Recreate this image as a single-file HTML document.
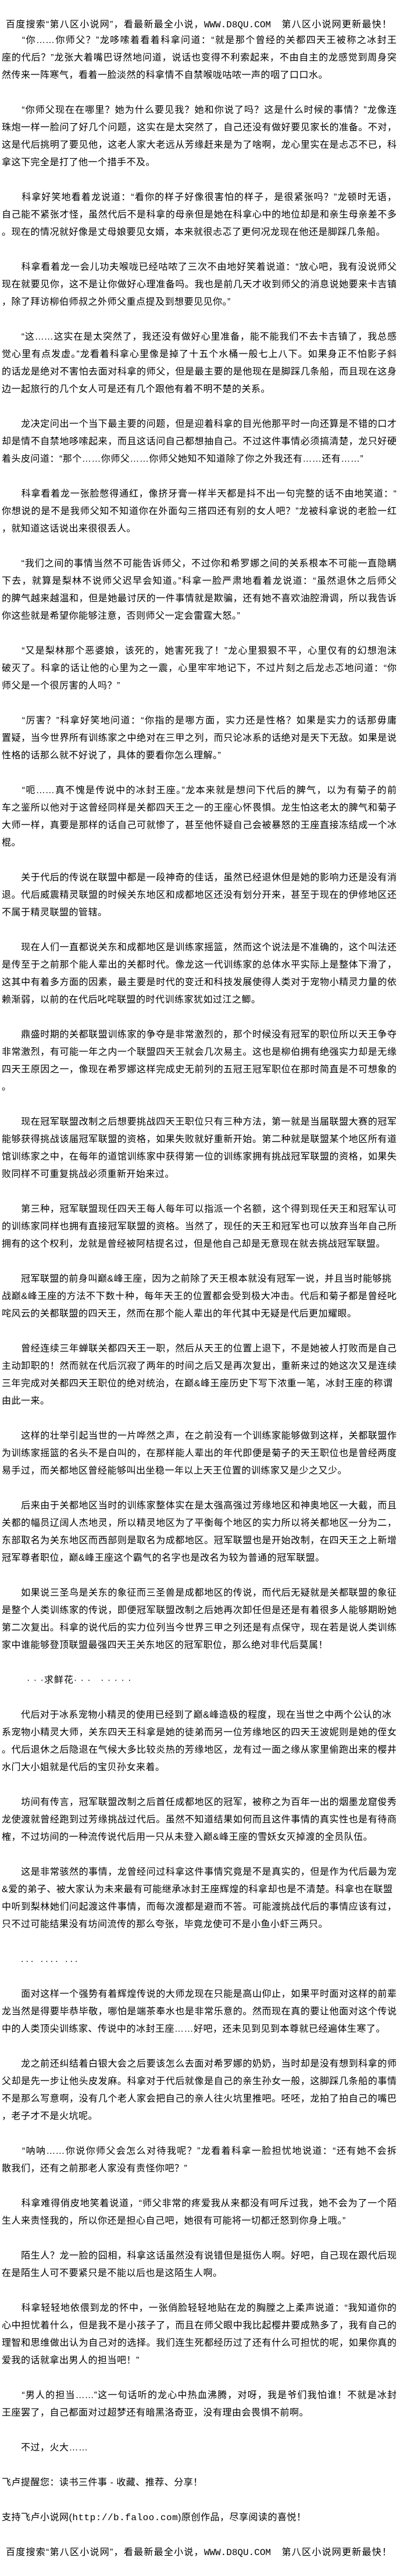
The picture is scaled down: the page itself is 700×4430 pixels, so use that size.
<!DOCTYPE html>
<html><head><meta charset="utf-8"><style>
html,body{margin:0;padding:0;background:#fff;}
body{width:700px;height:4430px;position:relative;overflow:hidden;
font-family:"Liberation Sans","Noto Sans CJK SC",sans-serif;font-size:16px;color:#000;}
.p{position:absolute;left:3px;width:679px;}
.p div{height:30px;line-height:30px;white-space:nowrap;letter-spacing:0.5px;}
.p div.f{text-align:justify;text-align-last:justify;letter-spacing:0;}
.m{font-family:"Liberation Mono",monospace;}
</style></head><body>

<div class="p" style="top:28px;left:10px;width:663px"><div class="f">百度搜索“第八区小说网”，看最新最全小说，<span class="m">WWW.D8QU.COM</span>　第八区小说网更新最快！</div></div>

<div class="p" style="top:55px">
<div class="f">　　“你……你师父？”龙哆嗦着看着科拿问道：“就是那个曾经的关都四天王被称之冰封王</div>
<div class="f">座的代后？”龙张大着嘴巴讶然地问道，说话也变得不利索起来，不由自主的龙感觉到周身突</div>
<div>然传来一阵寒气，看着一脸淡然的科拿情不自禁喉咙咕哝一声的咽了口口水。</div>
</div>

<div class="p" style="top:175px">
<div class="f">　　“你师父现在在哪里？她为什么要见我？她和你说了吗？这是什么时候的事情？”龙像连</div>
<div class="f">珠炮一样一脸问了好几个问题，这实在是太突然了，自己还没有做好要见家长的准备。不对，</div>
<div class="f">这是代后挑明了要见他，这老人家大老远从芳缘赶来是为了啥啊，龙心里实在是忐忑不已，科</div>
<div>拿这下完全是打了他一个措手不及。</div>
</div>

<div class="p" style="top:325px">
<div class="f">　　科拿好笑地看着龙说道：“看你的样子好像很害怕的样子，是很紧张吗？”龙顿时无语，</div>
<div class="f">自己能不紧张才怪，虽然代后不是科拿的母亲但是她在科拿心中的地位却是和亲生母亲差不多</div>
<div>。现在的情况就好像是丈母娘要见女婿，本来就很忐忑了更何况龙现在他还是脚踩几条船。</div>
</div>

<div class="p" style="top:445px">
<div class="f">　　科拿看着龙一会儿功夫喉咙已经咕哝了三次不由地好笑着说道：“放心吧，我有没说师父</div>
<div class="f">现在就要见你，这不是让你做好心理准备吗。我也是前几天才收到师父的消息说她要来卡吉镇</div>
<div>，除了拜访柳伯师叔之外师父重点提及到想要见见你。”</div>
</div>

<div class="p" style="top:565px">
<div class="f">　　“这……这实在是太突然了，我还没有做好心里准备，能不能我们不去卡吉镇了，我总感</div>
<div class="f">觉心里有点发虚。”龙看着科拿心里像是掉了十五个水桶一般七上八下。如果身正不怕影子斜</div>
<div class="f">的话龙是绝对不害怕去面对科拿的师父，但是最主要的是他现在是脚踩几条船，而且现在这身</div>
<div>边一起旅行的几个女人可是还有几个跟他有着不明不楚的关系。</div>
</div>

<div class="p" style="top:715px">
<div class="f">　　龙决定问出一个当下最主要的问题，但是迎着科拿的目光他那平时一向还算是不错的口才</div>
<div class="f">却是情不自禁地哆嗦起来，而且这话问自己都想抽自己。不过这件事情必须搞清楚，龙只好硬</div>
<div>着头皮问道：“那个……你师父……你师父她知不知道除了你之外我还有……还有……”</div>
</div>

<div class="p" style="top:835px">
<div class="f">　　科拿看着龙一张脸憋得通红，像挤牙膏一样半天都是抖不出一句完整的话不由地笑道：“</div>
<div class="f">你想说的是不是我师父知不知道你在外面勾三搭四还有别的女人吧？”龙被科拿说的老脸一红</div>
<div>，就知道这话说出来很很丢人。</div>
</div>

<div class="p" style="top:955px">
<div class="f">　　“我们之间的事情当然不可能告诉师父，不过你和希罗娜之间的关系根本不可能一直隐瞒</div>
<div class="f">下去，就算是梨林不说师父迟早会知道。”科拿一脸严肃地看着龙说道：“虽然退休之后师父</div>
<div class="f">的脾气越来越温和，但是她最讨厌的一件事情就是欺骗，还有她不喜欢油腔滑调，所以我告诉</div>
<div>你这些就是希望你能够注意，否则师父一定会雷霆大怒。”</div>
</div>

<div class="p" style="top:1105px">
<div class="f">　　“又是梨林那个恶婆娘，该死的，她害死我了！”龙心里狠狠不平，心里仅有的幻想泡沫</div>
<div class="f">破灭了。科拿的话让他的心里为之一震，心里牢牢地记下，不过片刻之后龙忐忑地问道：“你</div>
<div>师父是一个很厉害的人吗？”</div>
</div>

<div class="p" style="top:1225px">
<div class="f">　　“厉害？”科拿好笑地问道：“你指的是哪方面，实力还是性格？如果是实力的话那毋庸</div>
<div class="f">置疑，当今世界所有训练家之中绝对在三甲之列，而只论冰系的话绝对是天下无敌。如果是说</div>
<div>性格的话那么就不好说了，具体的要看你怎么理解。”</div>
</div>

<div class="p" style="top:1345px">
<div class="f">　　“呃……真不愧是传说中的冰封王座。”龙本来就是想问下代后的脾气，以为有菊子的前</div>
<div class="f">车之鉴所以他对于这曾经同样是关都四天王之一的王座心怀畏惧。龙生怕这老太的脾气和菊子</div>
<div class="f">大师一样，真要是那样的话自己可就惨了，甚至他怀疑自己会被暴怒的王座直接冻结成一个冰</div>
<div>棍。</div>
</div>

<div class="p" style="top:1495px">
<div class="f">　　关于代后的传说在联盟中都是一段神奇的佳话，虽然已经退休但是她的影响力还是没有消</div>
<div class="f">退。代后威震精灵联盟的时候关东地区和成都地区还没有划分开来，甚至于现在的伊修地区还</div>
<div>不属于精灵联盟的管辖。</div>
</div>

<div class="p" style="top:1615px">
<div class="f">　　现在人们一直都说关东和成都地区是训练家摇篮，然而这个说法是不准确的，这个叫法还</div>
<div class="f">是传至于之前那个能人辈出的关都时代。像龙这一代训练家的总体水平实际上是整体下滑了，</div>
<div class="f">这其中有着多方面的因素，最主要是时代的变迁和科技发展使得人类对于宠物小精灵力量的依</div>
<div>赖渐弱，以前的在代后叱咤联盟的时代训练家犹如过江之鲫。</div>
</div>

<div class="p" style="top:1765px">
<div class="f">　　鼎盛时期的关都联盟训练家的争夺是非常激烈的，那个时候没有冠军的职位所以天王争夺</div>
<div class="f">非常激烈，有可能一年之内一个联盟四天王就会几次易主。这也是柳伯拥有绝强实力却是无缘</div>
<div class="f">四天王原因之一，像现在希罗娜这样完成史无前列的五冠王冠军职位在那时简直是不可想象的</div>
<div>。</div>
</div>

<div class="p" style="top:1915px">
<div class="f">　　现在冠军联盟改制之后想要挑战四天王职位只有三种方法，第一就是当届联盟大赛的冠军</div>
<div class="f">能够获得挑战该届冠军联盟的资格，如果失败就好重新开始。第二种就是联盟某个地区所有道</div>
<div class="f">馆训练家之中，在每年的道馆训练家中获得第一位的训练家拥有挑战冠军联盟的资格，如果失</div>
<div>败同样不可重复挑战必须重新开始来过。</div>
</div>

<div class="p" style="top:2065px">
<div class="f">　　第三种，冠军联盟现任四天王每人每年可以指派一个名额，这个得到现任天王和冠军认可</div>
<div class="f">的训练家同样也拥有直接冠军联盟的资格。当然了，现任的天王和冠军也可以放弃当年自己所</div>
<div>拥有的这个权利，龙就是曾经被阿桔提名过，但是他自己却是无意现在就去挑战冠军联盟。</div>
</div>

<div class="p" style="top:2185px">
<div class="f" style="width:670px">　　冠军联盟的前身叫巅&amp;峰王座，因为之前除了天王根本就没有冠军一说，并且当时能够挑</div>
<div class="f">战巅&amp;峰王座的方法不下数十种，每年天王的位置都会受到极大冲击。代后和菊子都是曾经叱</div>
<div>咤风云的关都联盟的四天王，然而在那个能人辈出的年代其中无疑是代后更加耀眼。</div>
</div>

<div class="p" style="top:2305px">
<div class="f">　　曾经连续三年蝉联关都四天王一职，然后从天王的位置上退下，不是她被人打败而是自己</div>
<div class="f">主动卸职的！然而就在代后沉寂了两年的时间之后又是再次复出，重新来过的她这次又是连续</div>
<div class="f" style="width:672px">三年完成对关都四天王职位的绝对统治，在巅&amp;峰王座历史下写下浓重一笔，冰封王座的称谓</div>
<div>由此一来。</div>
</div>

<div class="p" style="top:2455px">
<div class="f">　　这样的壮举引起当世的一片哗然之声，在之前没有一个训练家能够做到这样，关都联盟作</div>
<div class="f">为训练家摇篮的名头不是白叫的，在那样能人辈出的年代即便是菊子的天王职位也是曾经两度</div>
<div>易手过，而关都地区曾经能够叫出坐稳一年以上天王位置的训练家又是少之又少。</div>
</div>

<div class="p" style="top:2575px">
<div class="f">　　后来由于关都地区当时的训练家整体实在是太强高强过芳缘地区和神奥地区一大截，而且</div>
<div class="f">关都的幅员辽阔人杰地灵，所以精灵地区为了平衡每个地区的实力所以将关都地区一分为二，</div>
<div class="f">东部取名为关东地区而西部则是取名为成都地区。冠军联盟也是开始改制，在四天王之上新增</div>
<div>冠军尊者职位，巅&amp;峰王座这个霸气的名字也是改名为较为普通的冠军联盟。</div>
</div>

<div class="p" style="top:2725px">
<div class="f">　　如果说三圣鸟是关东的象征而三圣兽是成都地区的传说，而代后无疑就是关都联盟的象征</div>
<div class="f">是整个人类训练家的传说，即便冠军联盟改制之后她再次卸任但是还是有着很多人能够期盼她</div>
<div class="f">第二次复出。科拿的说代后的实力位列当今世界三甲之列还是有点保守，现在若是说人类训练</div>
<div>家中谁能够登顶联盟最强四天王关东地区的冠军职位，那么绝对非代后莫属！</div>
</div>

<div class="p" style="top:2875px;left:46px"><div style="letter-spacing:1px">·&nbsp;·&nbsp;·求鲜花·&nbsp;·&nbsp;·&nbsp;&nbsp;&nbsp;·&nbsp;·&nbsp;·&nbsp;·&nbsp;·</div></div>

<div class="p" style="top:2935px">
<div class="f" style="width:670px">　　代后对于冰系宠物小精灵的使用已经到了巅&amp;峰造极的程度，现在当世之中两个公认的冰</div>
<div class="f">系宠物小精灵大师，关东四天王科拿是她的徒弟而另一位芳缘地区的四天王波妮则是她的侄女</div>
<div class="f">。代后退休之后隐退在气候大多比较炎热的芳缘地区，龙有过一面之缘从家里偷跑出来的樱井</div>
<div>水门大小姐就是代后的宝贝孙女来着。</div>
</div>

<div class="p" style="top:3085px">
<div class="f">　　坊间有传言，冠军联盟改制之后首任成都地区的冠军，被称之为百年一出的烟墨龙窟俊秀</div>
<div class="f">龙使渡就曾经跑到过芳缘挑战过代后。虽然不知道结果如何而且这件事情的真实性也是有待商</div>
<div>榷，不过坊间的一种流传说代后用一只从未登入巅&amp;峰王座的雪妖女灭掉渡的全员队伍。</div>
</div>

<div class="p" style="top:3205px">
<div class="f">　　这是非常骇然的事情，龙曾经问过科拿这件事情究竟是不是真实的，但是作为代后最为宠</div>
<div class="f" style="width:672px">&amp;爱的弟子、被大家认为未来最有可能继承冰封王座辉煌的科拿却也是不清楚。科拿也在联盟</div>
<div class="f">中听到梨林她们问起渡这件事情，而每次渡都是避而不答。可能渡挑战代后的事情应该有过，</div>
<div>只不过可能结果没有坊间流传的那么夸张，毕竟龙使可不是小鱼小虾三两只。</div>
</div>

<div class="p" style="top:3355px;left:36px"><div style="letter-spacing:4px">...&nbsp;....&nbsp;...</div></div>

<div class="p" style="top:3415px">
<div class="f">　　面对这样一个强势有着辉煌传说的大师龙现在只能是高山仰止，如果平时面对这样的前辈</div>
<div class="f">龙当然是得要毕恭毕敬，哪怕是端茶奉水也是非常乐意的。然而现在真的要让他面对这个传说</div>
<div>中的人类顶尖训练家、传说中的冰封王座……好吧，还未见到见到本尊就已经遍体生寒了。</div>
</div>

<div class="p" style="top:3535px">
<div class="f">　　龙之前还纠结着白银大会之后要该怎么去面对希罗娜的奶奶，当时却是没有想到科拿的师</div>
<div class="f">父却是先一步让他头皮发麻。科拿对于代后就像是自己的亲生孙女一般，这脚踩几条船的事情</div>
<div class="f">不是那么写意啊，没有几个老人家会把自己的亲人往火坑里推吧。呸呸，龙拍了拍自己的嘴巴</div>
<div>，老子才不是火坑呢。</div>
</div>

<div class="p" style="top:3685px">
<div class="f">　　“呐呐……你说你师父会怎么对待我呢？”龙看着科拿一脸担忧地说道：“还有她不会拆</div>
<div>散我们，还有之前那老人家没有责怪你吧？”</div>
</div>

<div class="p" style="top:3775px">
<div class="f">　　科拿难得俏皮地笑着说道，“师父非常的疼爱我从来都没有呵斥过我，她不会为了一个陌</div>
<div>生人来责怪我的，所以你还是担心自己吧，她很有可能将一切都迁怒到你身上哦。”</div>
</div>

<div class="p" style="top:3865px">
<div class="f">　　陌生人？龙一脸的囧相，科拿这话虽然没有说错但是挺伤人啊。好吧，自己现在跟代后现</div>
<div>在是陌生人可不要紧只是不能以后也是这陌生人啊。</div>
</div>

<div class="p" style="top:3955px">
<div class="f">　　科拿轻轻地依偎到龙的怀中，一张俏脸轻轻地贴在龙的胸膛之上柔声说道：“我知道你的</div>
<div class="f">心中担忧着什么，但是我不是小孩子了，而且在师父眼中我比起樱井要成熟多了，我有自己的</div>
<div class="f">理智和思维做出认为自己对的选择。我们连生死都经历过了还有什么可担忧的呢，如果你真的</div>
<div>爱我的话就拿出男人的担当吧！”</div>
</div>

<div class="p" style="top:4105px">
<div class="f">　　“男人的担当……”这一句话听的龙心中热血沸腾，对呀，我是爷们我怕谁！不就是冰封</div>
<div>王座罢了，自己都面对过超梦还有暗黑洛奇亚，没有理由会畏惧不前啊。</div>
</div>

<div class="p" style="top:4195px"><div>　　不过，火大……</div></div>

<div class="p" style="top:4255px"><div>飞卢提醒您：读书三件事 - 收藏、推荐、分享！</div></div>

<div class="p" style="top:4315px"><div>支持飞卢小说网(<span class="m">http://b.faloo.com</span>)原创作品，尽享阅读的喜悦！</div></div>

<div class="p" style="top:4375px;left:10px;width:663px"><div class="f">百度搜索“第八区小说网”，看最新最全小说，<span class="m">WWW.D8QU.COM</span>　第八区小说网更新最快！</div></div>

</body></html>
